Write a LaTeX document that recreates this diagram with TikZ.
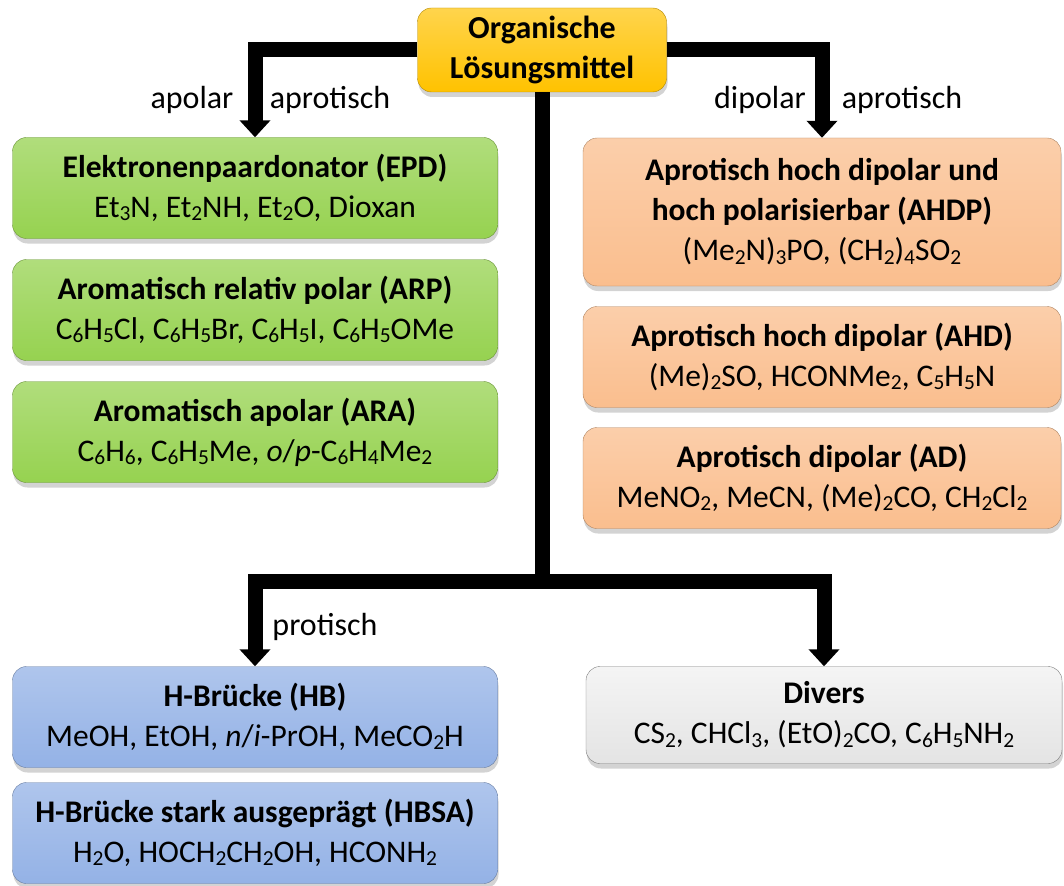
\documentclass[tikz,border=0pt]{standalone}
\usepackage{fontspec}
\setmainfont{Carlito}
\usetikzlibrary{arrows.meta, positioning, shadows}
\definecolor{mygreen}{RGB}{150, 210, 80}
\definecolor{myorange}{RGB}{250, 190, 142}
\definecolor{myblue}{RGB}{148, 178, 230}
\definecolor{mygray}{RGB}{228, 228, 228}
\definecolor{myyellow}{RGB}{255, 194, 0}
\newcommand{\ix}[1]{\raisebox{-0.1em}{\scalebox{0.68}{#1}}}

\begin{document}
\begin{tikzpicture}[x=1pt, y=-1pt,
    box/.style={rectangle, rounded corners=14pt, align=center, inner sep=4pt,
        font=\fontsize{31.5}{40}\selectfont,
        drop shadow={shadow xshift=1pt, shadow yshift=-5pt, opacity=0.35}},
    greenbox/.style={box, top color=mygreen!75!white, bottom color=mygreen, draw=mygreen!70!black,
        minimum width=485pt, minimum height=101pt},
    orangebox/.style={box, top color=myorange!75!white, bottom color=myorange, draw=myorange!70!black,
        minimum width=478pt, minimum height=101pt},
    bluebox/.style={box, top color=myblue!75!white, bottom color=myblue, draw=myblue!70!black,
        minimum width=485pt, minimum height=101pt},
    graybox/.style={box, top color=mygray!40!white, bottom color=mygray, draw=mygray!55!black,
        minimum width=476pt, minimum height=97pt},
    lbl/.style={font=\fontsize{32}{38}\selectfont, inner sep=0pt},
    line/.style={line width=15pt},
    conn/.style={line, -{Triangle[width=30pt, length=17pt]}}
  ]
    \useasboundingbox (0, 0) rectangle (1064, 885);

    % Wurzel
    \node[box, top color=myyellow!70!white, bottom color=myyellow, draw=myyellow!70!black,
        minimum width=249pt, minimum height=84pt, font=\bfseries\fontsize{32}{40}\selectfont]
        (org) at (542, 50) {Organische\\Lösungsmittel};

    % apolar aprotisch
    \node[greenbox] (epd) at (255, 188) {\textbf{Elektronenpaardonator (EPD)}\\Et\ix3N, Et\ix2NH, Et\ix2O, Dioxan};
    \node[greenbox] (arp) at (255, 310) {\textbf{Aromatisch relativ polar (ARP)}\\C\ix6H\ix5Cl, C\ix6H\ix5Br, C\ix6H\ix5I, C\ix6H\ix5OMe};
    \node[greenbox] (ara) at (255, 432) {\textbf{Aromatisch apolar (ARA)}\\C\ix6H\ix6, C\ix6H\ix5Me, \textit{o}/\textit{p}-C\ix6H\ix4Me\ix2};

    % dipolar aprotisch
    \node[orangebox, minimum height=148pt] (ahdp) at (822, 212) {\textbf{Aprotisch hoch dipolar und}\\\textbf{hoch polarisierbar (AHDP)}\\(Me\ix2N)\ix3PO, (CH\ix2)\ix4SO\ix2};
    \node[orangebox] (ahd) at (822, 357) {\textbf{Aprotisch hoch dipolar (AHD)}\\(Me)\ix2SO, HCONMe\ix2, C\ix5H\ix5N};
    \node[orangebox] (ad) at (822, 478) {\textbf{Aprotisch dipolar (AD)}\\MeNO\ix2, MeCN, (Me)\ix2CO, CH\ix2Cl\ix2};

    % protisch
    \node[bluebox] (hb) at (255, 717) {\textbf{H-Brücke (HB)}\\MeOH, EtOH, \textit{n}/\textit{i}-PrOH, MeCO\ix2H};
    \node[bluebox] (hbsa) at (255, 833) {\textbf{H-Brücke stark ausgeprägt (HBSA)}\\H\ix2O, HOCH\ix2CH\ix2OH, HCONH\ix2};

    % Divers
    \node[graybox] (div) at (824, 715) {\textbf{Divers}\\CS\ix2, CHCl\ix3, (EtO)\ix2CO, C\ix6H\ix5NH\ix2};

    % Pfeile
    \draw[conn] (org.west) -| (epd.north);
    \draw[conn] (org.east) -| (ahdp.north);
    \coordinate (split) at (542, 581);
    \draw[line] (org.south) -- (split);
    \draw[conn] (split) -| (hb.north);
    \draw[conn] (split) -| (div.north);

    % Beschriftungen
    \node[lbl] (lapolar) at (192, 100) {apolar};
    \node[lbl] (laprot) at (330, 100) {aprotisch};
    \node[lbl] (ldipolar) at (760, 100) {dipolar};
    \node[lbl] (laprotb) at (902, 100) {aprotisch};
    \node[lbl] (lprot) at (325, 627) {protisch};
\end{tikzpicture}
\end{document}
